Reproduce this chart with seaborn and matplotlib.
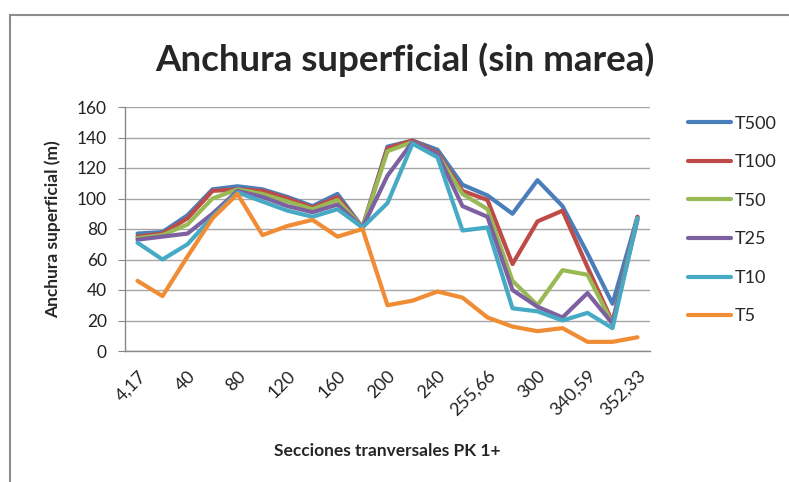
import numpy as np
import pandas as pd
import seaborn as sns
import matplotlib.pyplot as plt
from matplotlib.patches import Rectangle

# cross sections (only every other one is labelled on the axis)
secciones = ['4,17', '20', '40', '60', '80', '100', '120', '140', '160', '180',
             '200', '220', '240', '250', '255,66', '280', '300', '320',
             '340,59', '350', '352,33']

t500 = [77, 78, 89, 106, 108, 106, 101, 95, 103, 81,
        134, 138, 132, 109, 102, 90, 112, 95, 64, 31, 88]
t100 = [75, 77, 87, 105, 106, 105, 100, 94, 101, 81,
        133, 138, 130, 105, 99, 57, 85, 92, 55, 19, 88]
t50 = [74, 76, 83, 100, 106, 103, 98, 93, 99, 81,
       131, 137, 129, 103, 93, 46, 30, 53, 50, 18, 87]
t25 = [73, 75, 77, 90, 105, 101, 95, 91, 96, 81,
       115, 137, 129, 95, 88, 40, 29, 22, 38, 18, 86]
t10 = [71, 60, 70, 88, 104, 98, 92, 88, 93, 81,
       97, 136, 127, 79, 81, 28, 26, 20, 25, 15, 87]
t5 = [46, 36, 62, 87, 103, 76, 82, 86, 75, 80,
      30, 33, 39, 35, 22, 16, 13, 15, 6, 6, 9]

series_names = ['T500', 'T100', 'T50', 'T25', 'T10', 'T5']
colors = ['#4A7EBB', '#BE4B48', '#98B954', '#7D60A0', '#46AAC5', '#F08C33']

df = pd.DataFrame({'seccion': secciones, 'T500': t500, 'T100': t100, 'T50': t50,
                   'T25': t25, 'T10': t10, 'T5': t5})
long = df.melt(id_vars='seccion', var_name='serie', value_name='anchura')
long['seccion'] = pd.Categorical(long['seccion'], categories=secciones, ordered=True)
long['pos'] = long['seccion'].cat.codes

sns.set_style('white')
plt.rcParams['font.family'] = ['Lato', 'DejaVu Sans']

fig = plt.figure(figsize=(7.89, 4.82), dpi=100, facecolor='white')
ax = fig.add_axes([125 / 789, 1 - 351 / 482, 525 / 789, 244 / 482])

sns.lineplot(data=long, x='pos', y='anchura', hue='serie', hue_order=series_names,
             palette=colors, linewidth=3, sort=False, ax=ax, legend=True)

ax.set_xlim(-0.5, len(secciones) - 0.5)
ax.set_ylim(0, 160)
ax.set_yticks(range(0, 161, 20))
ax.yaxis.grid(True, color='#A6A6A6', linewidth=1)
ax.xaxis.grid(False)
ax.set_axisbelow(True)

ax.set_xticks(range(0, len(secciones), 2))
ax.set_xticklabels(secciones[::2], rotation=45, ha='right', rotation_mode='anchor',
                   fontsize=13, color='#222222')
ax.tick_params(axis='y', labelsize=12.5, labelcolor='#222222', length=5,
               color='#888888', direction='out', left=True, pad=8)
ax.tick_params(axis='x', length=0, pad=12)

for side in ['top', 'right']:
    ax.spines[side].set_visible(False)
for side in ['left', 'bottom']:
    ax.spines[side].set_color('#888888')
    ax.spines[side].set_linewidth(1)

ax.set_xlabel('Secciones tranversales PK 1+', fontsize=12.5, fontweight='bold')
ax.xaxis.set_label_coords((387 - 125) / 525, (351 - 443) / 244)
ax.set_ylabel('Anchura superficial (m)', fontsize=12.5, fontweight='bold')
ax.yaxis.set_label_coords((61 - 125) / 525, 0.5)

fig.text(405 / 789, 1 - 60 / 482, 'Anchura superficial (sin marea)',
         ha='center', va='center', fontsize=26.5, fontweight='bold')

ax.get_legend().remove()
handles, labels = ax.get_legend_handles_labels()
fig.legend(handles, labels, loc='center left',
           bbox_to_anchor=(688 / 789, 1 - 220 / 482), frameon=False,
           fontsize=13, handlelength=2.4, handletextpad=0.2, labelspacing=1.25,
           borderpad=0, borderaxespad=0)

# chart area border (cut off at the right and bottom in the original)
fig.add_artist(Rectangle((10 / 789, -0.2), 2, 1 - 15 / 482 + 0.2,
                         transform=fig.transFigure, fill=False,
                         edgecolor='#8C8C8C', linewidth=1.5, clip_on=False))

fig.savefig('out.png', dpi=100, facecolor='white')
